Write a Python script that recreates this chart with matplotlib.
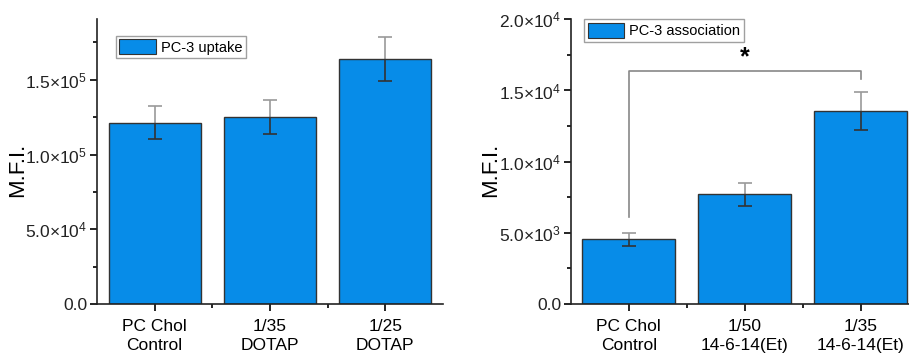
import numpy as np
import matplotlib
matplotlib.use("Agg")
import matplotlib.pyplot as plt
from matplotlib.patches import Patch

plt.rcParams["font.family"] = ["Liberation Sans", "DejaVu Sans"]
plt.rcParams["mathtext.fontset"] = "custom"
plt.rcParams["mathtext.rm"] = "Liberation Sans"
plt.rcParams["mathtext.it"] = "Liberation Sans"

# data
uptake_groups = ["PC Chol\nControl", "1/35\nDOTAP", "1/25\nDOTAP"]
uptake_mfi = [1.213e5, 1.25e5, 1.638e5]
uptake_err = [1.1e4, 1.15e4, 1.47e4]
uptake_ticks = [0, 5e4, 1e5, 1.5e5]
uptake_labels = ["0.0", r"5.0×10$^{4}$", r"1.0×10$^{5}$", r"1.5×10$^{5}$"]

assoc_groups = ["PC Chol\nControl", "1/50\n14-6-14(Et)", "1/35\n14-6-14(Et)"]
assoc_mfi = [4550, 7710, 13540]
assoc_err = [450, 810, 1320]
assoc_ticks = [0, 5e3, 1e4, 1.5e4, 2e4]
assoc_labels = ["0.0", r"5.0×10$^{3}$", r"1.0×10$^{4}$", r"1.5×10$^{4}$", r"2.0×10$^{4}$"]

bracket_y = 16400
bracket_left_low = 6100
bracket_right_low = 15800
star_y = 17300

bar_color = "#078CE8"
edge_color = "#333333"


def draw_panel(ax, groups, vals, errs, ticks, labels, ymax, legend_label, legend_anchor):
    x = np.arange(1, len(groups) + 1)
    vals = np.asarray(vals)
    errs = np.asarray(errs)
    ax.bar(x, vals, width=0.8, color=bar_color, edgecolor=edge_color, linewidth=1.0, zorder=2)
    # Origin style: part above the bar is light grey, part over the bar dark
    ax.vlines(x, vals, vals + errs, color="#9a9a9a", linewidth=1.2, zorder=1)
    ax.plot(x, vals + errs, ls="none", marker="_", ms=9.5, mew=1.2, color="#9a9a9a", zorder=1)
    ax.vlines(x, vals - errs, vals, color="#333333", linewidth=1.2, zorder=3)
    ax.plot(x, vals - errs, ls="none", marker="_", ms=9.5, mew=1.2, color="#333333", zorder=3)
    ax.set_xlim(0.5, 3.5)
    ax.set_xticks(x)
    ax.set_xticklabels(groups, fontsize=12.5, linespacing=1.35)
    ax.set_xticks([1.5, 2.5], minor=True)
    ax.set_yticks(ticks)
    ax.set_yticklabels(labels, fontsize=12.5, color="#222222")
    ax.set_yticks(np.arange(0.5, len(ticks) + 0.5, 1.0) * ticks[1], minor=True)
    ax.set_ylim(0, ymax)
    ax.spines["top"].set_visible(False)
    ax.spines["right"].set_visible(False)
    for s in ("left", "bottom"):
        ax.spines[s].set_linewidth(1.2)
        ax.spines[s].set_color("#222222")
    ax.tick_params(axis="both", which="major", direction="out", length=5, width=1.2, pad=2)
    ax.tick_params(axis="x", which="major", pad=6)
    ax.tick_params(axis="both", which="minor", direction="out", length=3, width=1.2)
    ax.set_ylabel("M.F.I.", fontsize=16)
    ax.yaxis.set_label_coords(-0.2, 0.47)
    handle = Patch(facecolor=bar_color, edgecolor=edge_color, linewidth=0.8)
    leg = ax.legend([handle], [legend_label], loc="upper left", bbox_to_anchor=legend_anchor,
                    borderaxespad=0, fontsize=10.5, frameon=True, fancybox=False,
                    handlelength=2.5, handleheight=1.2, borderpad=0.25, handletextpad=0.35)
    leg.get_frame().set_edgecolor("#888888")
    leg.get_frame().set_linewidth(1.0)


fig = plt.figure(figsize=(9.09, 3.55), dpi=100)
ax1 = fig.add_axes([0.1067, 0.1437, 0.3806, 0.802])
ax2 = fig.add_axes([0.628, 0.1437, 0.3825, 0.802])

draw_panel(ax1, uptake_groups, uptake_mfi, uptake_err, uptake_ticks, uptake_labels,
           1.905e5, "PC-3 uptake", (0.054, 0.942))
draw_panel(ax2, assoc_groups, assoc_mfi, assoc_err, assoc_ticks, assoc_labels,
           2.0e4, "PC-3 association", (0.038, 1.0))

# significance bracket
ax2.plot([1, 1, 3, 3], [bracket_left_low, bracket_y, bracket_y, bracket_right_low],
         color="#888888", linewidth=1.2)
ax2.text(2, star_y, "*", ha="center", va="center", fontsize=18, fontweight="bold")

fig.savefig("out.png", dpi=100)
